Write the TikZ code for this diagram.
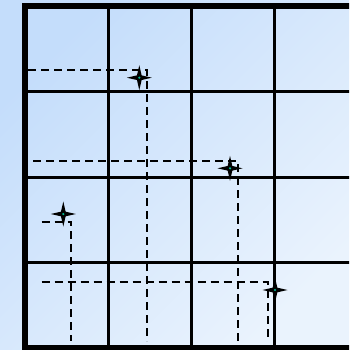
\documentclass[tikz,border=0pt]{standalone}
\definecolor{skytop}{RGB}{196,221,251}
\definecolor{skybot}{RGB}{234,243,253}
\definecolor{sparkteal}{RGB}{0,190,150}
\usetikzlibrary{shapes.geometric}

\begin{document}
\begin{tikzpicture}[x=1pt, y=-1pt,
        frame/.style={line width=6pt},
        gridline/.style={line width=3pt},
        guide/.style={line width=1.8pt, dash pattern=on 8pt off 5pt},
        sparkle/.style={star, star points=4, star point ratio=3.8,
                        minimum size=25pt, inner sep=0pt, fill=black,
                        path picture={\fill[sparkteal] (path picture bounding box.center) circle (1.2pt);}}
      ]
        \useasboundingbox (0,0) rectangle (349,350);
        \clip (0,0) rectangle (349,350);
        \shade[top color=skytop, bottom color=skybot, shading angle=45] (0,0) rectangle (349,350);

        % grid
        \foreach \i in {1,2,3} {
          \draw[gridline] (25+83.25*\i,6) -- (25+83.25*\i,348);
          \draw[gridline] (25,6+85.5*\i) -- (358,6+85.5*\i);
        }
        \draw[frame] (25,6) rectangle (358,348);

        % guide lines to the axes
        \coordinate (h1) at (28,70);    \coordinate (v1) at (147,341);
        \coordinate (h2) at (33,161);   \coordinate (v2) at (238,341);
        \coordinate (h3) at (41.7,221.7); \coordinate (v3) at (71,341);
        \coordinate (h4) at (41.7,282.3); \coordinate (v4) at (268,341);
        \draw[guide] (h1) -| (v1);
        \draw[guide] (h2) -| (v2);
        \draw[guide] (h3) -| (v3);
        \draw[guide] (h4) -| (v4);

        \node[sparkle] (s1) at (139.3,77.7) {};
        \node[sparkle] (s2) at (230,168.3) {};
        \node[sparkle] (s3) at (63.3,214) {};
        \node[sparkle] (s4) at (275,290) {};
      \end{tikzpicture}
\end{document}
